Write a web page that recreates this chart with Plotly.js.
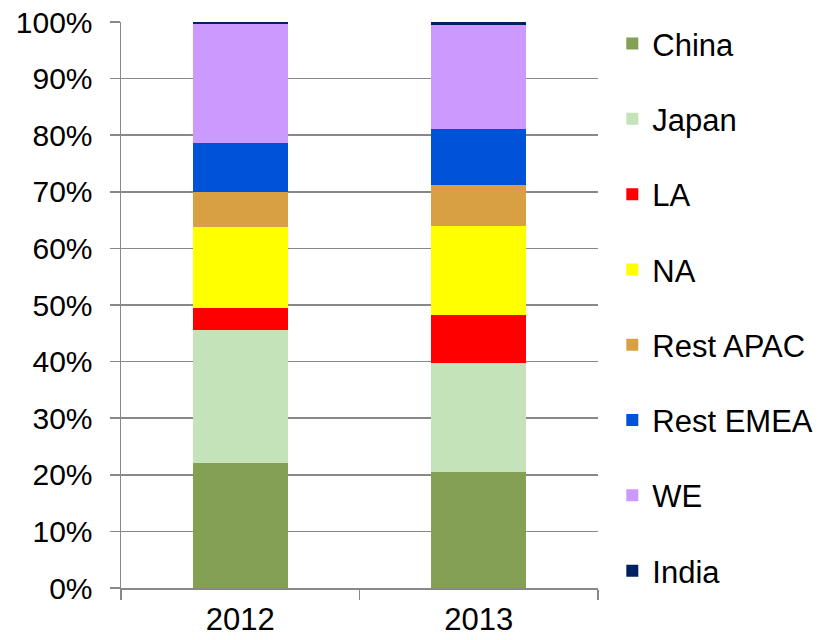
<!DOCTYPE html>
<html>
<head>
<meta charset="utf-8">
<script src="https://cdn.plot.ly/plotly-3.0.1.min.js"></script>
<style>html,body{margin:0;padding:0;background:#fff;}#chart{width:819px;height:640px;}</style>
</head>
<body>
<div id="chart"></div>
<script>
const years = ['2012', '2013'];
const regions = ['China', 'Japan', 'LA', 'NA', 'Rest APAC', 'Rest EMEA', 'WE', 'India'];
const china = [22.0, 20.5];
const japan = [23.5, 19.3];
const la = [4.0, 8.4];
const na = [14.3, 15.8];
const restApac = [6.2, 7.2];
const restEmea = [8.7, 9.9];
const we = [21.0, 18.4];
const india = [0.3, 0.5];
const colors = ['#84A055', '#C5E3B8', '#FF0000', '#FFFF00', '#D9A043', '#0052D9', '#CC99FF', '#002060'];
const seriesValues = [china, japan, la, na, restApac, restEmea, we, india];
const tickVals = [0, 10, 20, 30, 40, 50, 60, 70, 80, 90, 100];
const tickText = ['0%', '10%', '20%', '30%', '40%', '50%', '60%', '70%', '80%', '90%', '100%'];

const traces = regions.map((name, i) => ({
  type: 'bar',
  name: name,
  x: years,
  y: seriesValues[i],
  marker: {color: colors[i], line: {width: 0}},
  legendgroup: 'g' + i,
  hoverinfo: 'name+y'
}));

const layout = {
  width: 819,
  height: 640,
  margin: {l: 121, r: 221, t: 22, b: 52, pad: 0, autoexpand: false},
  paper_bgcolor: '#ffffff',
  plot_bgcolor: '#ffffff',
  barmode: 'stack',
  bargap: 0.6,
  font: {family: 'Liberation Sans, Arial, sans-serif', size: 30, color: '#000000'},
  xaxis: {
    type: 'category',
    automargin: false,
    showgrid: false,
    showline: true,
    linecolor: '#888888',
    linewidth: 1.5,
    ticks: 'outside',
    tickson: 'boundaries',
    ticklen: 10,
    tickcolor: '#888888',
    tickwidth: 1.5,
    tickfont: {size: 31},
    ticklabelstandoff: 3,
    zeroline: false
  },
  yaxis: {
    automargin: false,
    range: [0, 100],
    tickvals: tickVals,
    ticktext: tickText,
    showgrid: true,
    gridcolor: '#888888',
    gridwidth: 1.5,
    showline: true,
    linecolor: '#888888',
    linewidth: 1.5,
    ticks: 'outside',
    ticklen: 10,
    tickcolor: '#888888',
    tickwidth: 1.5,
    tickfont: {size: 30},
    zeroline: false,
    ticklabelstandoff: 11
  },
  legend: {
    x: 1.030,
    xanchor: 'left',
    y: 1.009,
    yanchor: 'top',
    traceorder: 'grouped',
    tracegroupgap: 32,
    maxheight: 640,
    font: {size: 31},
    bgcolor: 'rgba(0,0,0,0)'
  },
  showlegend: true
};

Plotly.newPlot('chart', traces, layout, {displayModeBar: false, staticPlot: true});
</script>
</body>
</html>
